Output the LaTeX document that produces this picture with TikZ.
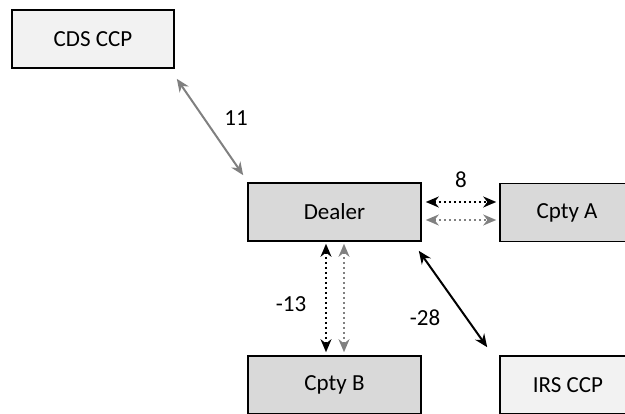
\documentclass[tikz,border=0pt]{standalone}
\usepackage{fontspec}
\setmainfont{Carlito}
\usetikzlibrary{arrows.meta,calc}
\definecolor{boxdark}{RGB}{217,217,217}
\definecolor{boxlight}{RGB}{242,242,242}
\definecolor{arrgray}{RGB}{128,128,128}
\tikzset{
 box/.style={draw=black, line width=1.6pt, minimum height=58pt, inner sep=0pt, font=\fontsize{23}{27}\selectfont},
 darkbox/.style={box, fill=boxdark},
 lightbox/.style={box, fill=boxlight},
 conn/.style={line width=2pt, {Stealth[length=13pt,width=11pt]}-{Stealth[length=13pt,width=11pt]}},
 dots/.style={dash pattern=on 1.8pt off 3.2pt},
 lbl/.style={font=\fontsize{23}{27}\selectfont, inner sep=0pt}
}
\begin{document}
\begin{tikzpicture}[x=1pt,y=-1pt]
\useasboundingbox (0,0) rectangle (625,414);
\clip (0,0) rectangle (625,414);
\node[lightbox, minimum width=162pt] (cds) at (93,39) {CDS CCP};
\node[darkbox, minimum width=173pt] (dealer) at (334.5,212) {Dealer};
\node[darkbox, minimum width=134pt] (cptya) at (567,212.5) {Cpty A};
\node[darkbox, minimum width=173pt] (cptyb) at (334.5,385) {Cpty B};
\node[lightbox, minimum width=136pt] (irs) at (568,385) {IRS CCP};
% connectors
\draw[conn, arrgray] ($(cds.south east)+(2,10)$) -- ($(dealer.north west)+(-4,-7)$);
\draw[conn, dots, black] ($(dealer.east)+(4,-10)$) -- ($(cptya.west)+(-3,-10.5)$);
\draw[conn, dots, arrgray] ($(dealer.east)+(4,8)$) -- ($(cptya.west)+(-3,7.5)$);
\draw[conn, dots, black] ($(dealer.south)+(-8.5,2)$) -- ($(cptyb.north)+(-8.5,-3)$);
\draw[conn, dots, arrgray] ($(dealer.south)+(9.5,2)$) -- ($(cptyb.north)+(9.5,-3)$);
\draw[conn, black] ($(dealer.south east)+(-3,9)$) -- ($(irs.north west)+(-12,-8)$);
% labels
\node[lbl] (l11) at (236,118) {11};
\node[lbl] (l8) at (461,180) {8};
\node[lbl] (l13) at (291,304) {-13};
\node[lbl] (l28) at (425,318) {-28};
\end{tikzpicture}
\end{document}
